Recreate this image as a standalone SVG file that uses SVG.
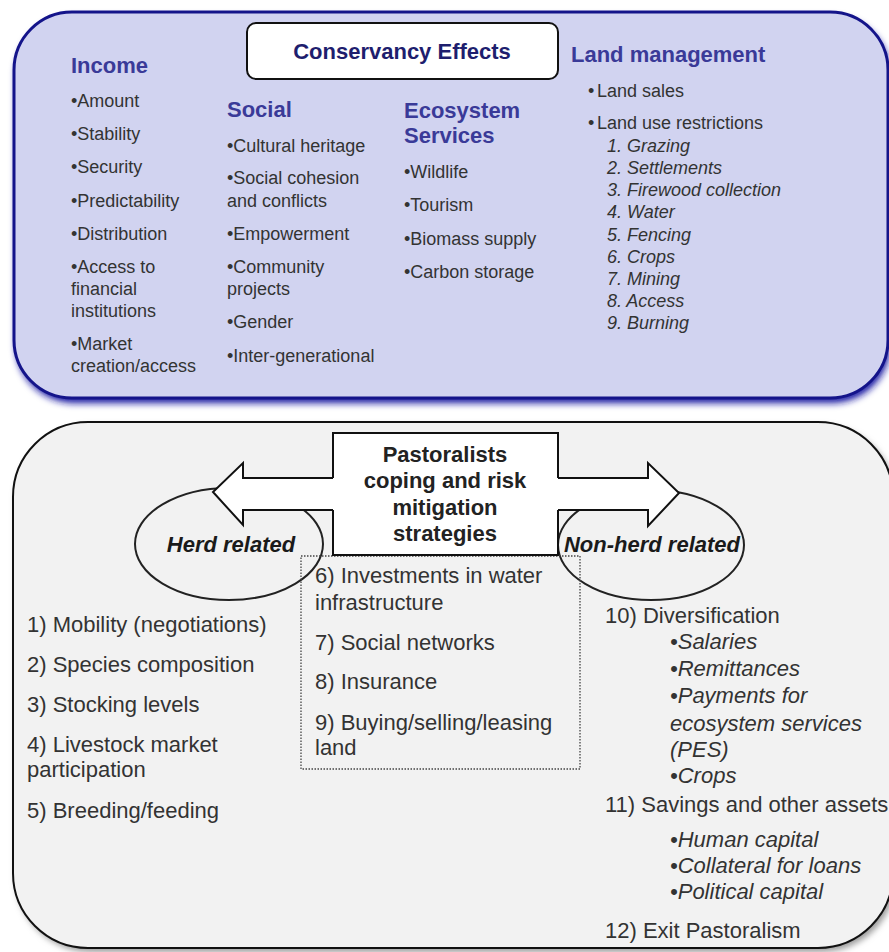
<svg xmlns="http://www.w3.org/2000/svg" width="889" height="952" viewBox="0 0 889 952">
<style>
text{font-family:"Liberation Sans",Arial,sans-serif}
.hd{font-size:22px;font-weight:bold;fill:#3a3a98}
.tb{font-size:18px;fill:#333}
.tbi{font-size:18px;fill:#333;font-style:italic}
.bt{font-size:22px;fill:#333}
.bi{font-size:22px;fill:#333;font-style:italic}
.ell{fill:none;stroke:#222;stroke-width:2}
.ellt{font-size:22px;font-weight:bold;font-style:italic;fill:#1a1a1a;text-anchor:middle}
.ctr{font-size:22px;font-weight:bold;fill:#222;text-anchor:middle}
</style>
<defs>
<filter id="shTop" x="-5%" y="-5%" width="110%" height="115%"><feGaussianBlur stdDeviation="3.5"/></filter>
<filter id="shBot" x="-5%" y="-5%" width="110%" height="110%"><feGaussianBlur stdDeviation="3"/></filter>
</defs>
<rect width="889" height="952" fill="#ffffff"/>

<g id="conservancy-effects">
<rect x="16" y="17" width="874" height="386" rx="58" fill="#1818a0" filter="url(#shTop)"/>
<rect x="14" y="12" width="874" height="386" rx="58" fill="#d1d3f0" stroke="#14148a" stroke-width="3"/>
<g id="title">
<rect x="247" y="23" width="311" height="56" rx="9" fill="#ffffff" stroke="#111" stroke-width="2"/>
<text x="402" y="59" text-anchor="middle" style="font-size:22px;font-weight:bold;fill:#1e1e6e">Conservancy Effects</text>
</g>
<g id="income">
<text class="hd" x="71" y="73">Income</text>
<text class="tb" x="71" y="107">•Amount</text>
<text class="tb" x="71" y="140">•Stability</text>
<text class="tb" x="71" y="173">•Security</text>
<text class="tb" x="71" y="207">•Predictability</text>
<text class="tb" x="71" y="240">•Distribution</text>
<text class="tb" x="71" y="273">•Access to</text>
<text class="tb" x="71" y="295">financial</text>
<text class="tb" x="71" y="317">institutions</text>
<text class="tb" x="71" y="350">•Market</text>
<text class="tb" x="71" y="372">creation/access</text>
</g>
<g id="social">
<text class="hd" x="227" y="117">Social</text>
<text class="tb" x="227" y="152">•Cultural heritage</text>
<text class="tb" x="227" y="184">•Social cohesion</text>
<text class="tb" x="227" y="207">and conflicts</text>
<text class="tb" x="227" y="240">•Empowerment</text>
<text class="tb" x="227" y="273">•Community</text>
<text class="tb" x="227" y="295">projects</text>
<text class="tb" x="227" y="328">•Gender</text>
<text class="tb" x="227" y="362">•Inter-generational</text>
</g>
<g id="ecosystem-services">
<text class="hd" x="404" y="118">Ecosystem</text>
<text class="hd" x="404" y="143">Services</text>
<text class="tb" x="404" y="178">•Wildlife</text>
<text class="tb" x="404" y="211">•Tourism</text>
<text class="tb" x="404" y="245">•Biomass supply</text>
<text class="tb" x="404" y="278">•Carbon storage</text>
</g>
<g id="land-management">
<text class="hd" x="571" y="62">Land management</text>
<text class="tb" x="588" y="97">•<tspan x="597">Land sales</tspan></text>
<text class="tb" x="588" y="129">•<tspan x="597">Land use restrictions</tspan></text>
<text class="tbi" x="607" y="152">1. Grazing</text>
<text class="tbi" x="607" y="174">2. Settlements</text>
<text class="tbi" x="607" y="196">3. Firewood collection</text>
<text class="tbi" x="607" y="218">4. Water</text>
<text class="tbi" x="607" y="241">5. Fencing</text>
<text class="tbi" x="607" y="263">6. Crops</text>
<text class="tbi" x="607" y="285">7. Mining</text>
<text class="tbi" x="607" y="307">8. Access</text>
<text class="tbi" x="607" y="329">9. Burning</text>
</g>
</g>

<g id="coping-strategies">
<rect x="16" y="426" width="880" height="526" rx="75" fill="#9a9a9a" filter="url(#shBot)"/>
<rect x="13" y="422" width="880" height="526" rx="75" fill="#f2f2f2" stroke="#111" stroke-width="2"/>
</g>

<g id="herd-related">
<ellipse class="ell" cx="229" cy="544" rx="94" ry="56"/>
<text class="ellt" x="231" y="552">Herd related</text>
</g>
<g id="non-herd-related">
<ellipse class="ell" cx="651" cy="545" rx="93" ry="55"/>
<text class="ellt" x="652" y="552">Non-herd related</text>
</g>

<g id="shared-strategies">
<rect x="301" y="556" width="279" height="213" fill="none" stroke="#444" stroke-width="1.3" stroke-dasharray="1.5 1.5"/>
<text class="bt" x="315" y="583">6) Investments in water</text>
<text class="bt" x="315" y="610">infrastructure</text>
<text class="bt" x="315" y="650">7) Social networks</text>
<text class="bt" x="315" y="689">8) Insurance</text>
<text class="bt" x="315" y="730">9) Buying/selling/leasing</text>
<text class="bt" x="315" y="755">land</text>
</g>

<g id="connectors">
<path d="M333,478 H243 V463 L213,492 L243,525 V510 H333" fill="#ffffff" stroke="#111" stroke-width="2" stroke-linejoin="miter"/>
<path d="M558,478 H648 V463 L679,493 L648,526 V510 H558" fill="#ffffff" stroke="#111" stroke-width="2" stroke-linejoin="miter"/>
</g>

<g id="pastoralists-strategies">
<rect x="333" y="433" width="225" height="122" fill="#ffffff"/>
<path d="M333,478 V433 H558 V478 M558,510 V555 H333 V510" fill="none" stroke="#111" stroke-width="2"/>
<text class="ctr" x="445" y="462">Pastoralists</text>
<text class="ctr" x="445" y="488">coping and risk</text>
<text class="ctr" x="445" y="515">mitigation</text>
<text class="ctr" x="445" y="541">strategies</text>
</g>

<g id="herd-strategies">
<text class="bt" x="27" y="632">1) Mobility (negotiations)</text>
<text class="bt" x="27" y="672">2) Species composition</text>
<text class="bt" x="27" y="712">3) Stocking levels</text>
<text class="bt" x="27" y="752">4) Livestock market</text>
<text class="bt" x="27" y="777">participation</text>
<text class="bt" x="27" y="818">5) Breeding/feeding</text>
</g>

<g id="non-herd-strategies">
<text class="bt" x="605" y="623">10) Diversification</text>
<text class="bi" x="670" y="649">•Salaries</text>
<text class="bi" x="670" y="676">•Remittances</text>
<text class="bi" x="670" y="703">•Payments for</text>
<text class="bi" x="670" y="731">ecosystem services</text>
<text class="bi" x="670" y="757">(PES)</text>
<text class="bi" x="670" y="783">•Crops</text>
<text class="bt" x="605" y="812">11) Savings and other assets</text>
<text class="bi" x="670" y="847">•Human capital</text>
<text class="bi" x="670" y="873">•Collateral for loans</text>
<text class="bi" x="670" y="899">•Political capital</text>
<text class="bt" x="605" y="938">12) Exit Pastoralism</text>
</g>
</svg>
